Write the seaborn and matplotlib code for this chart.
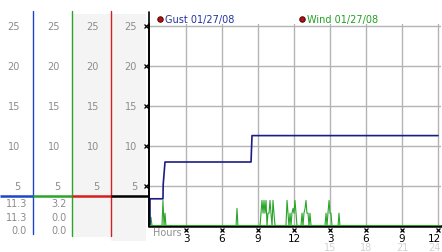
import matplotlib
matplotlib.use("Agg")
import matplotlib.pyplot as plt
import seaborn as sns
import pandas as pd

# ---------------- data ----------------
gust_hours = [0, 0, 1.08, 1.1, 1.25, 8.42, 8.5, 24]
gust_vals = [0, 3.4, 3.4, 5.2, 8.0, 8.0, 11.3, 11.3]

wind_hours = [0, 0.08, 0.17,
              1.0, 1.08, 1.17, 1.25, 1.33,
              7.17, 7.25, 7.33,
              9.17, 9.25, 9.33, 9.42, 9.5, 9.58, 9.67, 9.75, 9.83, 9.92, 10.0, 10.08, 10.17, 10.25, 10.33, 10.42,
              11.33, 11.42, 11.5, 11.58, 11.67, 11.75, 11.83, 11.92, 12.0, 12.08, 12.17, 12.25,
              12.58, 12.67, 12.75, 12.83, 12.92, 13.0, 13.08, 13.17, 13.25, 13.33, 13.42,
              14.58, 14.67, 14.75, 14.83, 14.92, 15.0, 15.08, 15.17,
              15.67, 15.75, 15.83, 24]
wind_vals = [0, 1.1, 0,
             0, 3.2, 0, 1.6, 0,
             0, 2.2, 0,
             0, 1.6, 3.2, 1.6, 3.2, 1.6, 3.2, 0, 1.6, 1.6, 3.2, 1.6, 0, 3.2, 1.6, 0,
             0, 3.2, 1.6, 0, 1.6, 0, 1.6, 2.2, 1.6, 3.2, 1.6, 0,
             0, 1.6, 0, 1.6, 2.2, 3.2, 1.6, 1.6, 0, 1.6, 0,
             0, 1.6, 0, 1.6, 3.2, 1.6, 1.6, 0,
             0, 1.6, 0, 0]

y_ticks = [5, 10, 15, 20, 25]
x_ticks = [3, 6, 9, 12, 15, 18, 21, 24]
x_tick_labels = ["3", "6", "9", "12", "3", "6", "9", "12"]
x_tick_labels2 = ["", "", "", "", "15", "18", "21", "24"]
gust_stats = ["11.3", "11.3", "0.0"]
wind_stats = ["3.2", "0.0", "0.0"]
legend_labels = ["Gust 01/27/08", "Wind 01/27/08"]

# ---------------- figure ----------------
sns.set_theme(style="white")
plt.rcParams['font.family'] = ['DejaVu Sans']

W, H = 442, 253
fig = plt.figure(figsize=(W / 100, H / 100), dpi=100)
fig.patch.set_facecolor("white")

gust_color = "#1c1c88"
wind_color = "#2aa52a"
grid_color = "#b4b4b4"
lbl_gray = "#8c8c8c"

# main axes: value 0 at px 227, 8 px per unit; hour 0 at px 150, 12 px per hour
ymax = 25.25
ax = fig.add_axes([149 / W, (H - 227) / H, (441 - 149) / W, ymax * 8 / H])
xmax = (441 - 150) / 12
ax.set_xlim(-1 / 12, xmax)
ax.set_ylim(0, ymax)
ax.set_facecolor("white")

df_g = pd.DataFrame({"hours": gust_hours, "gust": gust_vals})
df_w = pd.DataFrame({"hours": wind_hours, "wind": wind_vals})
sns.lineplot(data=df_w, x="hours", y="wind", ax=ax, estimator=None, sort=False,
             color=wind_color, lw=0.8, zorder=3)
sns.lineplot(data=df_g, x="hours", y="gust", ax=ax, estimator=None, sort=False,
             color=gust_color, lw=1.2, zorder=4)

ax.set_xticks(x_ticks)
ax.set_yticks(y_ticks)
ax.grid(True, color=grid_color, lw=1.0)
ax.tick_params(length=0, labelbottom=False, labelleft=False)
ax.set_xlabel("")
ax.set_ylabel("")
for s in ["top", "right"]:
    ax.spines[s].set_visible(False)
ax.spines["left"].set_color("black")
ax.spines["left"].set_linewidth(1.2)
ax.spines["bottom"].set_color("black")
ax.spines["bottom"].set_linewidth(1.8)
ax.axhline(0.1, color=wind_color, lw=0.8, zorder=5)

# x tick marks and labels
ax.plot(x_ticks, [-0.45] * len(x_ticks), ls="none", marker="x", ms=2.5, mew=0.9,
        color="black", clip_on=False)
for i, (xt, l1, l2) in enumerate(zip(x_ticks, x_tick_labels, x_tick_labels2)):
    last = i == len(x_ticks) - 1
    xpos = xmax - 0.02 if last else xt
    ha = "right" if last else "center"
    ax.text(xpos, -1.45, l1, ha=ha, va="center", fontsize=7.5, color="black", clip_on=False)
    if l2:
        ax.text(xpos, -2.6, l2, ha=ha, va="center", fontsize=7, color="#d2d2d2", clip_on=False)
ax.text((153 - 150) / 12, -0.8, "Hours", ha="left", va="center", fontsize=7, color="#909090",
        clip_on=False)

# legend
leg_x = [(160 - 150) / 12, (302 - 150) / 12]
leg_colors = ["#2233a0", "#22a022"]
for lx, lab, lc in zip(leg_x, legend_labels, leg_colors):
    ax.plot([lx], [25.9], marker="o", ms=4, color="#b01010", mec="#3a0000", mew=0.6,
            clip_on=False)
    ax.text(lx + 5 / 12, 25.9, lab, ha="left", va="center", fontsize=7, color=lc, clip_on=False)

# ---------------- left panels ----------------
axL = fig.add_axes([0, 0, 149 / W, 1])
axL.set_xlim(0, 149)
axL.set_ylim((227 - H) / 8, 227 / 8)
axL.axis("off")

# gray backgrounds for columns 3 and 4
axL.fill_between([72, 111], -1.375, 26.5, color="#f4f4f4", lw=0, zorder=0)
axL.fill_between([111, 146], -1.875, 26.5, color="#f4f4f4", lw=0, zorder=0)

sep_colors = ["#1d45c8", "#2aa52a", "#d42020", "black"]
col_edges = [0, 33, 72, 111, 149]
for i, c in enumerate(sep_colors):
    axL.plot([col_edges[i], col_edges[i + 1]], [3.75, 3.75], color=c, lw=1.8,
             solid_capstyle="butt", zorder=3, clip_on=False)
vbottoms = [-1.0, -1.25, -1.25]
for xv, c, yb in zip(col_edges[1:4], sep_colors[:3], vbottoms):
    axL.plot([xv, xv], [yb, 26.875], color=c, lw=1.0, zorder=2)
axL.plot([149, 149], [0, 26.75], color="black", lw=1.2, zorder=2, clip_on=False)

label_right = [20, 60, 99, 137]
for xr in label_right:
    for yt in y_ticks:
        axL.text(xr, yt, str(yt), ha="right", va="center", fontsize=7, color=lbl_gray)
axL.plot([146] * len(y_ticks), y_ticks, ls="none", marker="x", ms=2.5, mew=0.9,
         color="black", clip_on=False)

row_y = [2.85, 1.1, -0.5]
for yv, s1, s2 in zip(row_y, gust_stats, wind_stats):
    axL.text(27, yv, s1, ha="right", va="center", fontsize=7, color=lbl_gray)
    axL.text(67, yv, s2, ha="right", va="center", fontsize=7, color=lbl_gray)

fig.savefig("out.png", dpi=100, facecolor="white")
